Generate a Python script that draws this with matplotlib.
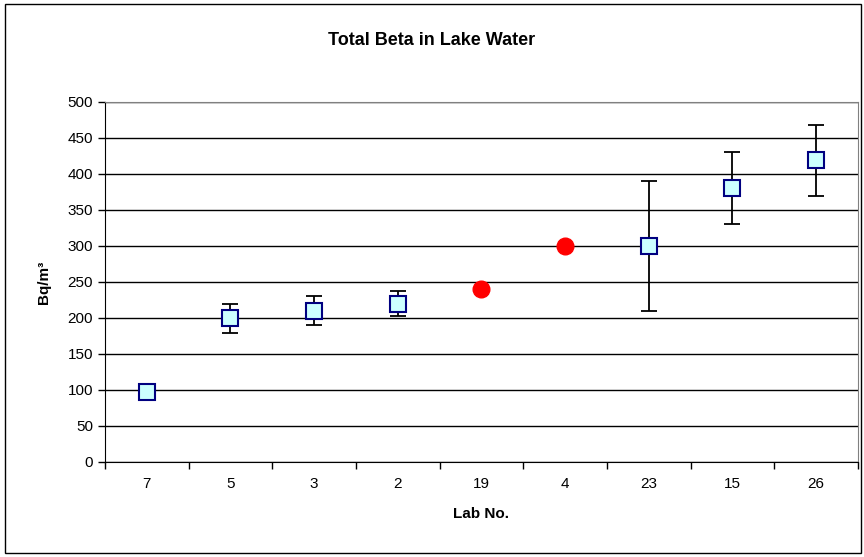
import matplotlib
matplotlib.use("Agg")
import matplotlib.pyplot as plt
from matplotlib.patches import Rectangle
import numpy as np

# data
labs = ["7", "5", "3", "2", "19", "4", "23", "15", "26"]
values = [97, 200, 210, 220, 240, 300, 300, 380, 420]
err_low = [0, 21, 20, 17, 0, 0, 90, 50, 51]
err_high = [0, 20, 20, 17, 0, 0, 90, 50, 48]
outlier = [False, False, False, False, True, True, False, False, False]

plt.rcParams['font.family'] = ['Liberation Sans', 'DejaVu Sans']

fig = plt.figure(figsize=(8.64, 5.57), dpi=100)
ax = fig.add_axes([0.1215, 0.1706, 0.8715, 0.6463])

x = np.arange(len(labs))
vals = np.array(values)
lo = np.array(err_low)
hi = np.array(err_high)
out = np.array(outlier)
normal = ~out

ax.errorbar(x[normal], vals[normal], yerr=[lo[normal], hi[normal]], fmt='none',
            ecolor='black', elinewidth=1.3, capsize=5.5, capthick=1.3, zorder=3)
ax.plot(x[normal], vals[normal], 's', ms=11, mfc='#ccffff', mec='#000080',
        mew=1.5, zorder=4)
ax.plot(x[out], vals[out], 'o', ms=12, mfc='#ff0000', mec='#ff0000', zorder=4)

ax.set_xlim(-0.5, len(labs) - 0.5)
ax.set_ylim(0, 500)
ax.set_yticks(np.arange(0, 501, 50))
ax.yaxis.grid(True, color='black', lw=1)
ax.set_axisbelow(True)

ax.set_xticks(x)
ax.set_xticklabels(labs, fontsize=11)
ax.tick_params(axis='x', length=0, pad=11)
ax.set_xticks(np.arange(-0.5, len(labs), 1), minor=True)
ax.tick_params(axis='x', which='minor', length=5, width=1, direction='out')
ax.tick_params(axis='y', labelsize=11, length=5, width=1, direction='out')

for s in ['top', 'right']:
    ax.spines[s].set_color('#808080')
for s in ['left', 'bottom']:
    ax.spines[s].set_color('black')

ax.set_xlabel("Lab No.", fontsize=11, fontweight='bold', labelpad=11)
ax.set_ylabel("Bq/m³", fontsize=11, fontweight='bold', labelpad=12)
fig.text(0.5, 0.928, "Total Beta in Lake Water", ha='center', va='center',
         fontsize=13, fontweight='bold')

fig.patches.append(Rectangle((0.006, 0.007), 0.991, 0.985, transform=fig.transFigure,
                             fill=False, edgecolor='black', lw=1))

fig.savefig("out.png", dpi=100)
